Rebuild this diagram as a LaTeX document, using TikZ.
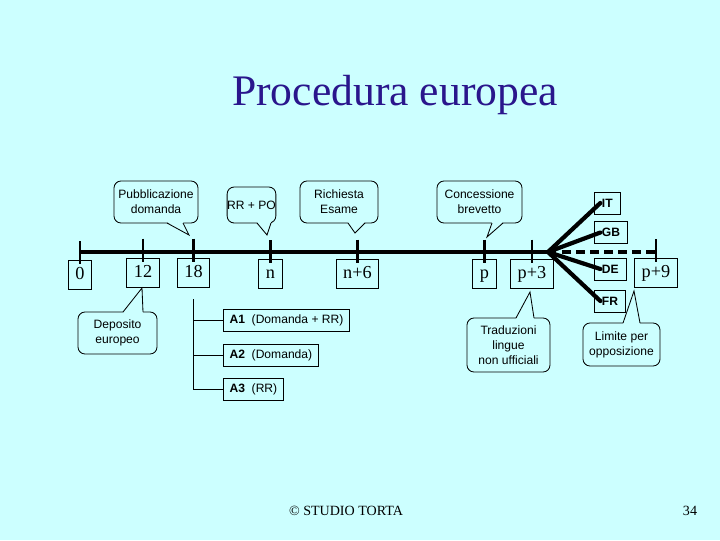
\documentclass[tikz,border=0pt]{standalone}
\usepackage{fontspec}
\setmainfont{Liberation Serif}
\setsansfont{Liberation Sans}
\usetikzlibrary{calc}

\definecolor{bgcyan}{RGB}{204,255,255}
\definecolor{titleblue}{RGB}{42,22,140}

% tail of a balloon: base x1, base x2, edge y, tip x, tip y, step into the balloon
\newcommand{\balloontail}[6]{%
  \fill[bgcyan] (#1,#3+#6) -- (#4,#5) -- (#2,#3+#6) -- cycle;
  \draw[bubbleline] (#1,#3) -- (#4,#5) -- (#2,#3);}

\begin{document}
\begin{tikzpicture}[x=0.025cm, y=-0.025cm,
  num/.style={draw, line width=0.7pt, inner xsep=5pt, minimum height=0.725cm,
    text height=9pt, text depth=2.5pt, font=\fontsize{13}{13}\selectfont},
  bubble/.style={draw, line width=0.6pt, rounded corners=5pt, align=center,
    inner sep=0pt, font=\sffamily\fontsize{8.6}{10.6}\selectfont},
  land/.style={draw, line width=0.7pt, anchor=west, inner xsep=5.3pt,
    minimum height=0.55cm, font=\sffamily\bfseries\fontsize{8.6}{10}\selectfont},
  annex/.style={draw, line width=0.7pt, anchor=west, inner xsep=4.3pt,
    minimum height=0.55cm, font=\sffamily\fontsize{8.6}{10}\selectfont},
  axis/.style={line width=2.2pt},
  tick/.style={line width=2pt},
  fan/.style={line width=3pt, line cap=round},
  bubbleline/.style={line width=0.6pt}]

  \fill[bgcyan] (0,0) rectangle (720,540);

  \node (title) [text=titleblue, font=\fontsize{31}{31}\selectfont] at (395,95) {Procedura europea};

  % time line
  \coordinate (start) at (81,252);
  \coordinate (hub) at (548,252);

  \node (b0)  [num] at (80,275)    {0};
  \node (b12) [num] at (143,272.5) {12};
  \node (b18) [num] at (193.5,272.5) {18};
  \node (bn)  [num] at (270.5,274) {n};
  \node (bn6) [num] at (357.5,273.5) {n+6};
  \node (bp)  [num] at (484.5,273.5) {p};
  \node (bp3) [num] at (532,273.5) {p+3};
  \node (bp9) [num] at (656,273)   {p+9};

  \draw[axis] (start) -- (hub);
  \draw[axis, dash pattern=on 6pt off 4pt] (hub) -- (hub -| bp9);
  \foreach \b in {b0,b12,b18,bn,bn6,bp,bp3,bp9}
    \draw[tick] ([yshift=13.5pt]\b.north) -- ([yshift=-3pt]\b.north);

  % countries
  \node (IT) [land] at (594,203)   {IT};
  \node (GB) [land] at (594,232.5) {GB};
  \node (DE) [land] at (594,269)   {DE};
  \node (FR) [land] at (594,301)   {FR};
  \foreach \c in {IT,GB,DE,FR}
    \draw[fan] (hub) -- ([xshift=4.5pt]\c.west);

  % balloons
  \node (pub) [bubble, minimum width=2.1cm, minimum height=1.05cm] at (156,202) {Pubblicazione\\domanda};
  \balloontail{167}{183}{223}{189}{235}{-1}
  \node (rrpo) [bubble, minimum width=1.175cm, minimum height=0.9cm] at (251.5,205) {RR + PO};
  \balloontail{257}{271}{223}{267}{235}{-1}
  \node (esame) [bubble, minimum width=1.95cm, minimum height=1.05cm] at (339,202) {Richiesta\\Esame};
  \balloontail{348}{365}{223}{355}{233}{-1}
  \node (conc) [bubble, minimum width=2.125cm, minimum height=1.05cm] at (479.5,202) {Concessione\\brevetto};
  \balloontail{492}{503}{223}{487}{237}{-1}
  \node (dep) [bubble, minimum width=1.975cm, minimum height=1.05cm] at (117.5,333) {Deposito\\europeo};
  \balloontail{123}{143}{312}{142}{288}{1}
  \node (trad) [bubble, minimum width=2.075cm, minimum height=1.35cm] at (508.5,345) {Traduzioni\\lingue\\non ufficiali};
  \balloontail{516}{534}{318}{530}{292}{1}
  \node (opp) [bubble, minimum width=1.925cm, minimum height=1.075cm] at (621.5,344.5) {Limite per\\opposizione};
  \balloontail{623}{640}{323}{634}{291}{1}

  % annexes
  \coordinate (br) at (193,299);
  \node (a1) [annex] at (223,320)   {\textbf{A1}~~(Domanda + RR)};
  \node (a2) [annex] at (223,355.5) {\textbf{A2}~~(Domanda)};
  \node (a3) [annex] at (223,389.5) {\textbf{A3}~~(RR)};
  \draw[line width=0.7pt] (br) |- (a3.west);
  \draw[line width=0.7pt] (br |- a1.west) -- (a1.west);
  \draw[line width=0.7pt] (br |- a2.west) -- (a2.west);

  % footer
  \node (studio) [font=\fontsize{10}{10}\selectfont] at (346,511) {© STUDIO TORTA};
  \node (page)   [font=\fontsize{10}{10}\selectfont] at (690,511) {34};
\end{tikzpicture}
\end{document}
